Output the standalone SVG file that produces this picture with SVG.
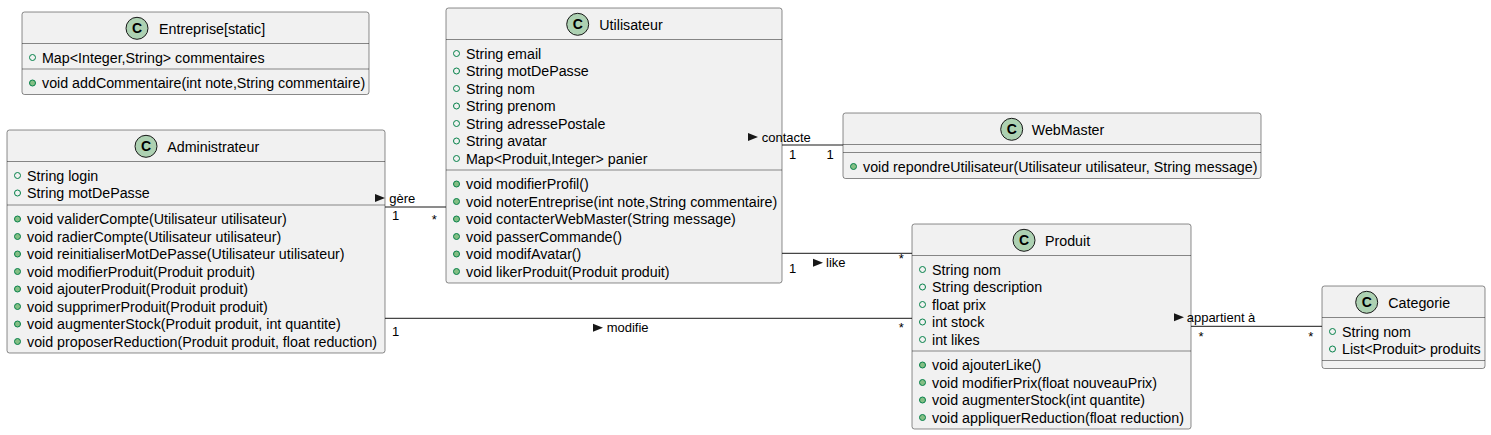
<svg xmlns="http://www.w3.org/2000/svg" width="1491" height="435" viewBox="0 0 1491 435">
<style>
.box{fill:#F1F1F1;stroke:#181818;stroke-width:0.5}
.sep{stroke:#181818;stroke-width:0.5}
.ci{fill:#ADD1B2;stroke:#181818;stroke-width:1}
.cl{font-family:"Liberation Sans",Arial,sans-serif;font-size:14px;font-weight:bold;fill:#000;text-anchor:middle}
.t{font-family:"Liberation Sans",Arial,sans-serif;font-size:14.25px;fill:#000}
.a{fill:none;stroke:#038048;stroke-width:1}
.m{fill:#84BE84;stroke:#038048;stroke-width:1}
.ln{stroke:#181818;stroke-width:1;fill:none}
.lb{font-family:"Liberation Sans",Arial,sans-serif;font-size:13px;fill:#000}
.mc{font-family:"Liberation Sans",Arial,sans-serif;font-size:13px;fill:#000;text-anchor:middle}
.ar{fill:#181818}
</style>
<rect width="1491" height="435" fill="#FFFFFF"/>

<g id="Entreprise">
<rect class="box" x="22" y="12" width="347" height="82.5" rx="2.5"/>
<line class="sep" x1="22" y1="43.5" x2="369" y2="43.5"/>
<line class="sep" x1="22" y1="69" x2="369" y2="69"/>
<circle class="ci" cx="137" cy="28.3" r="11"/>
<text class="cl" x="137" y="33.3">C</text>
<text class="t" x="159" y="33.5">Entreprise[static]</text>
<circle class="a" cx="32.5" cy="57.5" r="3"/>
<text class="t" x="42" y="62.5">Map&lt;Integer,String&gt; commentaires</text>
<circle class="m" cx="32.5" cy="83" r="3"/>
<text class="t" x="42" y="88">void addCommentaire(int note,String commentaire)</text>
</g>

<g id="Utilisateur">
<rect class="box" x="446" y="8" width="336" height="275" rx="2.5"/>
<line class="sep" x1="446" y1="39.5" x2="782" y2="39.5"/>
<line class="sep" x1="446" y1="170" x2="782" y2="170"/>
<circle class="ci" cx="577.7" cy="24.3" r="11"/>
<text class="cl" x="577.7" y="29.3">C</text>
<text class="t" x="599.3" y="29.5">Utilisateur</text>
<circle class="a" cx="456.5" cy="53.5" r="3"/><text class="t" x="466" y="58.5">String email</text>
<circle class="a" cx="456.5" cy="71" r="3"/><text class="t" x="466" y="76">String motDePasse</text>
<circle class="a" cx="456.5" cy="88.5" r="3"/><text class="t" x="466" y="93.5">String nom</text>
<circle class="a" cx="456.5" cy="106" r="3"/><text class="t" x="466" y="111">String prenom</text>
<circle class="a" cx="456.5" cy="123.5" r="3"/><text class="t" x="466" y="128.5">String adressePostale</text>
<circle class="a" cx="456.5" cy="141" r="3"/><text class="t" x="466" y="146">String avatar</text>
<circle class="a" cx="456.5" cy="158.5" r="3"/><text class="t" x="466" y="163.5">Map&lt;Produit,Integer&gt; panier</text>
<circle class="m" cx="456.5" cy="184" r="3"/><text class="t" x="466" y="189">void modifierProfil()</text>
<circle class="m" cx="456.5" cy="201.5" r="3"/><text class="t" x="466" y="206.5">void noterEntreprise(int note,String commentaire)</text>
<circle class="m" cx="456.5" cy="219" r="3"/><text class="t" x="466" y="224">void contacterWebMaster(String message)</text>
<circle class="m" cx="456.5" cy="236.5" r="3"/><text class="t" x="466" y="241.5">void passerCommande()</text>
<circle class="m" cx="456.5" cy="254" r="3"/><text class="t" x="466" y="259">void modifAvatar()</text>
<circle class="m" cx="456.5" cy="271.5" r="3"/><text class="t" x="466" y="276.5">void likerProduit(Produit produit)</text>
</g>

<g id="Administrateur">
<rect class="box" x="7" y="130" width="378" height="223" rx="2.5"/>
<line class="sep" x1="7" y1="161.5" x2="385" y2="161.5"/>
<line class="sep" x1="7" y1="205" x2="385" y2="205"/>
<circle class="ci" cx="146" cy="146.3" r="11"/>
<text class="cl" x="146" y="151.3">C</text>
<text class="t" x="167.3" y="151.5">Administrateur</text>
<circle class="a" cx="17.5" cy="175.5" r="3"/><text class="t" x="27" y="180.5">String login</text>
<circle class="a" cx="17.5" cy="193" r="3"/><text class="t" x="27" y="198">String motDePasse</text>
<circle class="m" cx="17.5" cy="219" r="3"/><text class="t" x="27" y="224">void validerCompte(Utilisateur utilisateur)</text>
<circle class="m" cx="17.5" cy="236.5" r="3"/><text class="t" x="27" y="241.5">void radierCompte(Utilisateur utilisateur)</text>
<circle class="m" cx="17.5" cy="254" r="3"/><text class="t" x="27" y="259">void reinitialiserMotDePasse(Utilisateur utilisateur)</text>
<circle class="m" cx="17.5" cy="271.5" r="3"/><text class="t" x="27" y="276.5">void modifierProduit(Produit produit)</text>
<circle class="m" cx="17.5" cy="289" r="3"/><text class="t" x="27" y="294">void ajouterProduit(Produit produit)</text>
<circle class="m" cx="17.5" cy="306.5" r="3"/><text class="t" x="27" y="311.5">void supprimerProduit(Produit produit)</text>
<circle class="m" cx="17.5" cy="324" r="3"/><text class="t" x="27" y="329">void augmenterStock(Produit produit, int quantite)</text>
<circle class="m" cx="17.5" cy="341.5" r="3"/><text class="t" x="27" y="346.5">void proposerReduction(Produit produit, float reduction)</text>
</g>

<g id="WebMaster">
<rect class="box" x="843" y="113" width="418" height="65.5" rx="2.5"/>
<line class="sep" x1="843" y1="144.5" x2="1261" y2="144.5"/>
<line class="sep" x1="843" y1="152.5" x2="1261" y2="152.5"/>
<circle class="ci" cx="1011.7" cy="129.3" r="11"/>
<text class="cl" x="1011.7" y="134.3">C</text>
<text class="t" x="1031.7" y="134.5">WebMaster</text>
<circle class="m" cx="853.5" cy="166.5" r="3"/><text class="t" x="863" y="171.5">void repondreUtilisateur(Utilisateur utilisateur, String message)</text>
</g>

<g id="Produit">
<rect class="box" x="912" y="224" width="279" height="205" rx="2.5"/>
<line class="sep" x1="912" y1="255.5" x2="1191" y2="255.5"/>
<line class="sep" x1="912" y1="351" x2="1191" y2="351"/>
<circle class="ci" cx="1024" cy="240.3" r="11"/>
<text class="cl" x="1024" y="245.3">C</text>
<text class="t" x="1045" y="245.5">Produit</text>
<circle class="a" cx="922.5" cy="269.5" r="3"/><text class="t" x="932" y="274.5">String nom</text>
<circle class="a" cx="922.5" cy="287" r="3"/><text class="t" x="932" y="292">String description</text>
<circle class="a" cx="922.5" cy="304.5" r="3"/><text class="t" x="932" y="309.5">float prix</text>
<circle class="a" cx="922.5" cy="322" r="3"/><text class="t" x="932" y="327">int stock</text>
<circle class="a" cx="922.5" cy="339.5" r="3"/><text class="t" x="932" y="344.5">int likes</text>
<circle class="m" cx="922.5" cy="365" r="3"/><text class="t" x="932" y="370">void ajouterLike()</text>
<circle class="m" cx="922.5" cy="382.5" r="3"/><text class="t" x="932" y="387.5">void modifierPrix(float nouveauPrix)</text>
<circle class="m" cx="922.5" cy="400" r="3"/><text class="t" x="932" y="405">void augmenterStock(int quantite)</text>
<circle class="m" cx="922.5" cy="417.5" r="3"/><text class="t" x="932" y="422.5">void appliquerReduction(float reduction)</text>
</g>

<g id="Categorie">
<rect class="box" x="1322" y="286" width="163" height="82.5" rx="2.5"/>
<line class="sep" x1="1322" y1="317.5" x2="1485" y2="317.5"/>
<line class="sep" x1="1322" y1="360.5" x2="1485" y2="360.5"/>
<circle class="ci" cx="1366.7" cy="302.3" r="11"/>
<text class="cl" x="1366.7" y="307.3">C</text>
<text class="t" x="1388.3" y="307.5">Categorie</text>
<circle class="a" cx="1332.5" cy="331.5" r="3"/><text class="t" x="1342" y="336.5">String nom</text>
<circle class="a" cx="1332.5" cy="349" r="3"/><text class="t" x="1342" y="354">List&lt;Produit&gt; produits</text>
</g>

<g id="connectors">
<line class="ln" x1="385" y1="207" x2="446" y2="207"/>
<polygon class="ar" points="375,194 385,198 375,202"/>
<text class="lb" x="389.3" y="203">gère</text>
<text class="mc" x="395.7" y="220">1</text>
<text class="mc" x="434.3" y="223.5">*</text>

<line class="ln" x1="782" y1="145" x2="843" y2="145"/>
<polygon class="ar" points="748,133 758,137 748,141"/>
<text class="lb" x="761.7" y="141.5">contacte</text>
<text class="mc" x="792.7" y="159">1</text>
<text class="mc" x="830" y="159">1</text>

<line class="ln" x1="782" y1="253.3" x2="912" y2="253.3"/>
<polygon class="ar" points="813,258.7 823,262.7 813,266.7"/>
<text class="lb" x="826" y="267">like</text>
<text class="mc" x="792.7" y="272.5">1</text>
<text class="mc" x="901.3" y="262.5">*</text>

<line class="ln" x1="385" y1="318.3" x2="912" y2="318.3"/>
<polygon class="ar" points="593,323.7 603,327.7 593,331.7"/>
<text class="lb" x="606.7" y="332">modifie</text>
<text class="mc" x="395.7" y="335.5">1</text>
<text class="mc" x="901.3" y="331.5">*</text>

<line class="ln" x1="1191" y1="326.3" x2="1322" y2="326.3"/>
<polygon class="ar" points="1174,313.3 1184,317.3 1174,321.3"/>
<text class="lb" x="1186.7" y="322">appartient à</text>
<text class="mc" x="1201" y="340.5">*</text>
<text class="mc" x="1310.7" y="340.5">*</text>
</g>
</svg>
